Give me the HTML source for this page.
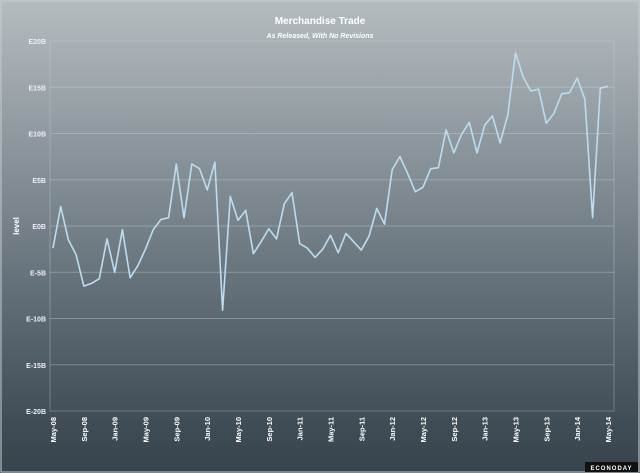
<!DOCTYPE html>
<html><head><meta charset="utf-8"><style>
html,body{margin:0;padding:0;}
body{width:640px;height:473px;overflow:hidden;font-family:"Liberation Sans",sans-serif;}
#bg{position:absolute;left:0;top:0;width:640px;height:473px;background:linear-gradient(#b5bcc0 0%,#8d979d 30%,#65717a 60%,#3f4c55 90%,#38444c 100%);}
</style></head><body>
<div id="bg"></div>
<svg id="chart" width="640" height="473" style="position:absolute;left:0;top:0"></svg>
<script>
const months=["May-08","Sep-08","Jan-09","May-09","Sep-09","Jan-10","May-10","Sep-10","Jan-11","May-11","Sep-11","Jan-12","May-12","Sep-12","Jan-13","May-13","Sep-13","Jan-14","May-14"];
const yTicks=[20,15,10,5,0,-5,-10,-15,-20];
const yTickLabels=["E20B","E15B","E10B","E5B","E0B","E-5B","E-10B","E-15B","E-20B"];
const values=[-2.4,2.1,-1.5,-3.1,-6.5,-6.2,-5.7,-1.4,-5.0,-0.4,-5.6,-4.3,
-2.5,-0.4,0.7,0.9,6.7,0.9,6.7,6.2,3.9,6.9,-9.1,3.2,
0.6,1.7,-3.0,-1.7,-0.3,-1.4,2.4,3.6,-1.9,-2.4,-3.4,-2.5,
-1.0,-2.9,-0.8,-1.7,-2.6,-1.1,1.9,0.2,6.1,7.5,5.7,3.7,
4.2,6.2,6.3,10.4,7.9,9.9,11.2,7.9,10.9,11.9,9.0,12.0,
18.7,16.1,14.6,14.8,11.1,12.2,14.3,14.4,16.0,13.7,0.9,14.9,15.1];
const NS="http://www.w3.org/2000/svg";
const svg=document.getElementById('chart');
const L=50,R=614,T=41,B=411,x0=53,x1=608;
function xs(i){return x0+(x1-x0)*i/(values.length-1);}
function ys(v){return T+(20-v)/40*(B-T);}
function mk(tag,attrs,parent){const e=document.createElementNS(NS,tag);for(const k in attrs)e.setAttribute(k,attrs[k]);(parent||svg).appendChild(e);return e;}
// border
let fr=mk('rect',{x:1,y:1,width:638,height:471,fill:'none',stroke:'#c8cdd0','stroke-width':1});


let pa=mk('rect',{x:L,y:T,width:R-L,height:B-T,fill:'none',stroke:'rgba(200,210,215,0.35)','stroke-width':1});


// title
let t1=mk('text',{x:320,y:24,'text-anchor':'middle',fill:'#fff','font-size':'10','font-weight':'bold'});t1.textContent='Merchandise Trade';


let t2=mk('text',{x:320,y:38,'text-anchor':'middle',fill:'#fff','font-size':'7','font-weight':'bold','font-style':'italic'});t2.textContent='As Released, With No Revisions';


yTicks.forEach((v,i)=>{
  const y=ys(v);
  if(i>0&&i<yTicks.length-1){const g=mk('line',{x1:L,x2:R,y1:y,y2:y,stroke:'rgba(210,218,222,0.35)','stroke-width':1});
  
  }
  const tx=mk('text',{x:46,y:y+3,'text-anchor':'end',fill:'#eef','font-size':'7','font-weight':'bold'});tx.textContent=yTickLabels[i];
  
  
});
months.forEach((m,i)=>{
  const x=xs(i*4);
  const tx=mk('text',{x:0,y:0,transform:`translate(${x+3},${B+6}) rotate(-90)`,'text-anchor':'end',fill:'#fff','font-size':'7.5','font-weight':'bold'});tx.textContent=m;
  
  
});
let yt=mk('text',{x:0,y:0,transform:'translate(19,226) rotate(-90)','text-anchor':'middle',fill:'#fff','font-size':'8','font-weight':'bold'});yt.textContent='level';


let pts=values.map((v,i)=>xs(i).toFixed(1)+','+ys(v).toFixed(1)).join(' ');
let ln=mk('polyline',{points:pts,fill:'none',stroke:'#bcdcf0','stroke-width':1.6,'stroke-linejoin':'round'});


let lg=mk('rect',{x:585,y:462,width:53,height:10,fill:'#111'});


let lt=mk('text',{x:611.5,y:470,'text-anchor':'middle',fill:'#fff','font-size':'6','font-weight':'bold','letter-spacing':'1'});lt.textContent='ECONODAY';


</script>
</body></html>
